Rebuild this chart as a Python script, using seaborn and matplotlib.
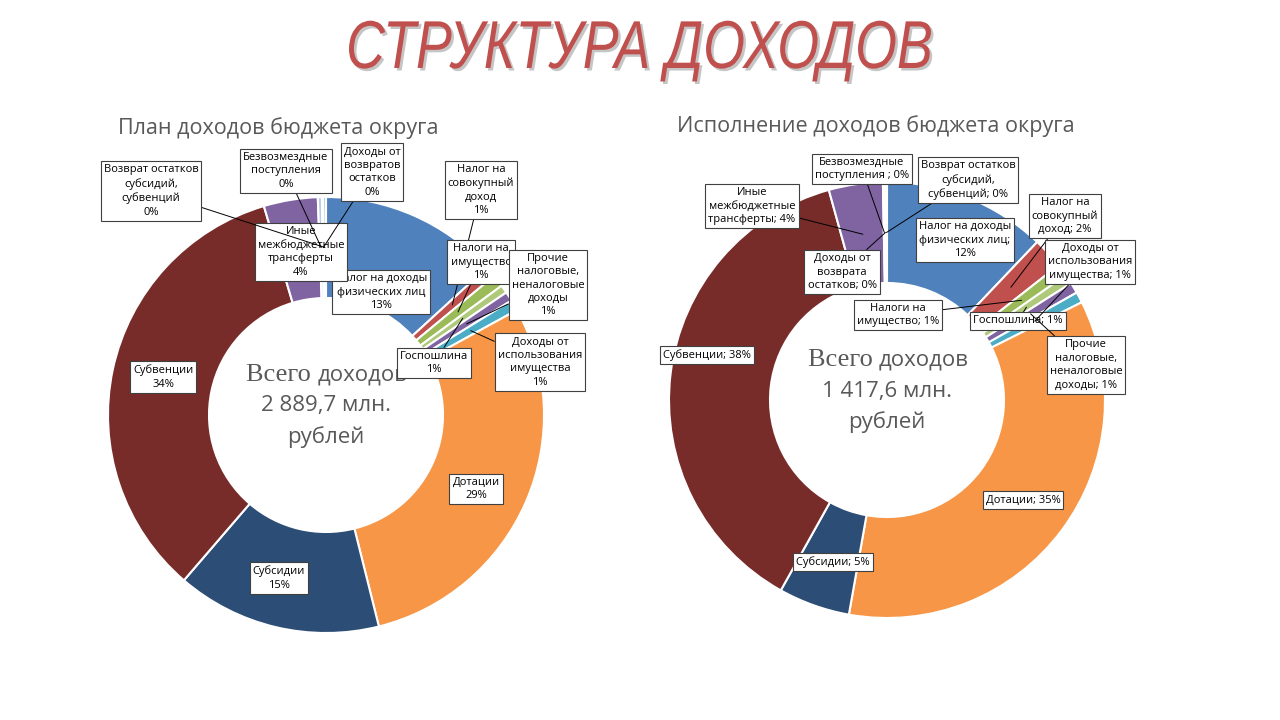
import numpy as np
import matplotlib
matplotlib.use("Agg")
import matplotlib.pyplot as plt
import matplotlib.patheffects as pe
from matplotlib.textpath import TextPath
from matplotlib.patches import PathPatch
from matplotlib.font_manager import FontProperties
from matplotlib.transforms import Affine2D
import seaborn as sns

# categories, clockwise from 12 o'clock
categories = ["Налог на доходы физических лиц", "Налог на совокупный доход", "Налоги на имущество",
              "Госпошлина", "Прочие налоговые, неналоговые доходы", "Доходы от использования имущества",
              "Дотации", "Субсидии", "Субвенции", "Иные межбюджетные трансферты",
              "Безвозмездные поступления", "Доходы от возвратов остатков",
              "Возврат остатков субсидий, субвенций"]

plan_values = [13.2, 0.8, 0.9, 0.6, 0.7, 0.8, 29.1, 15.2, 34.1, 4.0, 0.3, 0.1, 0.2]
fact_values = [12.1, 2.3, 0.9, 0.7, 0.8, 0.8, 35.2, 5.3, 37.6, 4.0, 0.1, 0.1, 0.1]
plan_total = "2 889,7 млн."
fact_total = "1 417,6 млн."

plan_names = ["Налог на доходы\nфизических лиц\n{}", "Налог на\nсовокупный\nдоход\n{}",
              "Налоги на\nимущество\n{}", "Госпошлина\n{}",
              "Прочие\nналоговые,\nненалоговые\nдоходы\n{}", "Доходы от\nиспользования\nимущества\n{}",
              "Дотации\n{}", "Субсидии\n{}", "Субвенции\n{}", "Иные\nмежбюджетные\nтрансферты\n{}",
              "Безвозмездные\nпоступления\n{}", "Доходы от\nвозвратов\nостатков\n{}",
              "Возврат остатков\nсубсидий,\nсубвенций\n{}"]
fact_names = ["Налог на доходы\nфизических лиц;\n{}", "Налог на\nсовокупный\nдоход; {}",
              "Налоги на\nимущество; {}", "Госпошлина; {}",
              "Прочие\nналоговые,\nненалоговые\nдоходы; {}", "Доходы от\nиспользования\nимущества; {}",
              "Дотации; {}", "Субсидии; {}", "Субвенции; {}", "Иные\nмежбюджетные\nтрансферты; {}",
              "Безвозмездные\nпоступления ; {}", "Доходы от\nвозврата\nостатков; {}",
              "Возврат остатков\nсубсидий,\nсубвенций; {}"]

colors = sns.color_palette(["#4F81BD", "#C0504D", "#9BBB59", "#AFC97A", "#8064A2", "#4BACC6",
                            "#F79646", "#2C4D75", "#772C2A", "#8064A2", "#B9CDE5", "#D9D9D9", "#95B3D7"])

# layout (pixel positions of label boxes, image coords)
plan_pos = [(381, 292), (481, 190), (481, 262), (434, 363), (548, 285), (540, 362), (476, 489),
            (279, 578), (163, 377), (301, 252), (286, 171), (372, 172), (151, 191)]
fact_pos = [(965, 240), (1065, 216), (898, 315), (1018, 321), (1086, 365), (1090, 262), (1023, 500),
            (833, 562), (707, 355), (752, 206), (862, 169), (842, 272), (968, 180)]
inside = [0, 6, 7, 8]

sns.set_theme(style="white")
plt.rcParams['font.family'] = ['Open Sans', 'DejaVu Sans']

H = 720
R, R_in = 218, 117

fig = plt.figure(figsize=(12.8, 7.2), dpi=100)
ax = fig.add_axes([0, 0, 1, 1])


def donut(values, names, pos, cx, cy, total):
    c = (cx, H - cy)
    ax.pie(values, colors=colors, startangle=90, counterclock=False, radius=R, center=c,
           wedgeprops=dict(width=R - R_in, edgecolor="white", linewidth=1.5))
    vals = np.array(values)
    frac = vals / vals.sum()
    mids = np.cumsum(frac) - frac / 2
    for i, (nm, (bx, by)) in enumerate(zip(names, pos)):
        pct = "{:.0f}%".format(frac[i] * 100)
        ang = np.deg2rad(90 - 360 * mids[i])
        rm = (R + R_in) / 2
        wx, wy = c[0] + rm * np.cos(ang), c[1] + rm * np.sin(ang)
        arrow = None if i in inside else dict(arrowstyle="-", color="black", lw=0.7,
                                               shrinkA=0, shrinkB=0)
        ax.annotate(nm.format(pct), xy=(wx, wy), xytext=(bx, H - by), ha="center", va="center",
                    fontsize=8, color="black", linespacing=1.3, zorder=5 + i * 0.1,
                    bbox=dict(boxstyle="square,pad=0.28", fc="white", ec="#404040", lw=0.8),
                    arrowprops=arrow)
    # centre text
    ax.text(cx - 8, H - cy + 40, "Всего ", family="Liberation Serif", fontsize=19,
            color="#595959", ha="right", va="center")
    ax.text(cx - 8, H - cy + 40, "доходов", fontsize=16, color="#595959", ha="left", va="center")
    ax.text(cx, H - cy + 9, total, fontsize=16, color="#595959", ha="center", va="center")
    ax.text(cx, H - cy - 22, "рублей", fontsize=16, color="#595959", ha="center", va="center")


donut(plan_values, plan_names, plan_pos, 326, 415, plan_total)
donut(fact_values, fact_names, fact_pos, 887, 400, fact_total)

ax.text(278, H - 128, "План доходов бюджета округа", fontsize=15.5, color="#595959",
        ha="center", va="center")
ax.text(876, H - 126, "Исполнение доходов бюджета округа", fontsize=15.5, color="#595959",
        ha="center", va="center")

# title: condensed italic, drawn as a scaled text path
title = "СТРУКТУРА ДОХОДОВ"
fp = FontProperties(family="Liberation Sans", style="italic")
tp = TextPath((0, 0), title, size=50, prop=fp)
caps = TextPath((0, 0), "СТРУКТУРА", size=50, prop=fp).get_extents()
ext = tp.get_extents()
sx = 582 / ext.width
sy = 48 / caps.height
for dx, dy, col, a in [(2.5, -2.5, "#7f7f7f", 0.45), (0, 0, "#C0504D", 1.0)]:
    tr = Affine2D().translate(-ext.x0 - ext.width / 2, 0).scale(sx, sy).translate(640 + dx, H - 68 + dy)
    ax.add_patch(PathPatch(tp, transform=tr + ax.transData, fc=col, ec="none", alpha=a, zorder=10))

ax.set_xlim(0, 1280)
ax.set_ylim(0, H)
ax.set_aspect("auto")
ax.axis("off")

fig.savefig("out.png", dpi=100)
